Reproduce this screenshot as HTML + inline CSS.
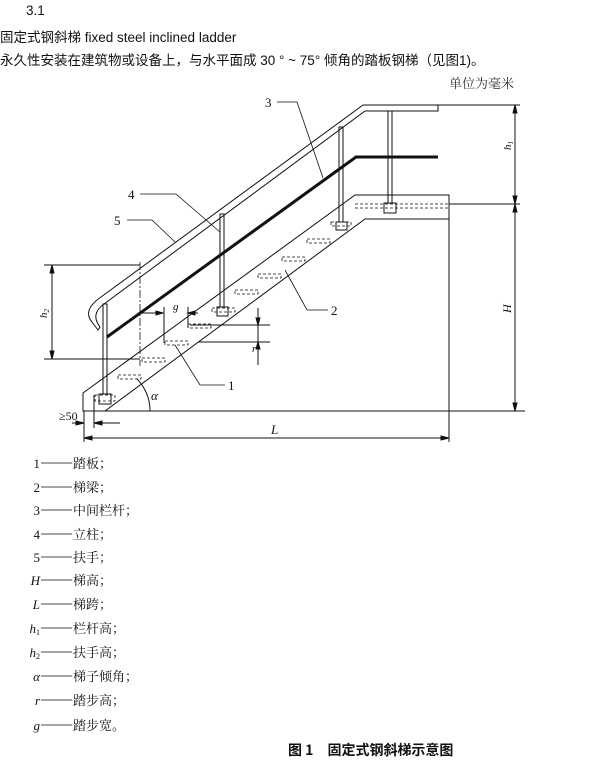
<!DOCTYPE html>
<html><head><meta charset="utf-8"><style>
body{margin:0;width:613px;height:765px;background:#fff;position:relative;overflow:hidden}
.t{position:absolute;font-family:"Liberation Sans","Noto Sans CJK SC",sans-serif;font-size:13.5px;color:#111;white-space:nowrap}
svg{position:absolute;left:0;top:0}
</style></head><body>
<div class="t" style="left:26px;top:3px">3.1</div>
<div class="t" style="left:0;top:26px">固定式钢斜梯 fixed steel inclined ladder</div>
<div class="t" style="left:0;top:49px">永久性安装在建筑物或设备上，与水平面成 30 ° ~ 75° 倾角的踏板钢梯（见图1)。</div>
<div class="t" style="left:449px;top:73px;font-family:'Noto Serif CJK SC',serif;font-size:13px;color:#333">单位为毫米</div>
<svg width="613" height="765" viewBox="0 0 613 765" font-family="Liberation Serif,Noto Serif CJK SC,serif" font-size="13" fill="none" stroke="#111" stroke-width="1">
<!-- handrail -->
<path d="M438,105 L363,105 L101,297 Q82,310 92,322 L98,330 L100,327 Q90,314 104,304 L365,111 L438,111 Z"/>
<!-- middle rail -->
<path d="M107,337 L356,157 L438,157" stroke-width="3"/>
<!-- stringer -->
<path d="M83,393 L355,195 L449,195 L449,219 L365,219 L105,411 L83,411 Z"/>
<!-- posts -->
<rect x="103" y="304" width="4" height="90"/><rect x="99" y="394" width="12" height="10"/>
<rect x="220" y="214" width="4" height="93"/><rect x="217" y="307" width="11" height="9"/>
<rect x="339" y="127" width="4" height="95"/><rect x="336" y="222" width="11" height="8"/>
<rect x="388" y="111" width="4" height="92"/><rect x="384" y="203" width="12" height="10"/>
<!-- treads -->
<g stroke-dasharray="3,2" stroke-width="0.8">
<rect x="79" y="409" width="0" height="0"/>
<rect x="118" y="375" width="23" height="4"/>
<rect x="142" y="358" width="23" height="4"/>
<rect x="165" y="341" width="23" height="4"/>
<rect x="188" y="324" width="23" height="4"/>
<rect x="212" y="308" width="23" height="4"/>
<rect x="235" y="290" width="23" height="4"/>
<rect x="258" y="274" width="23" height="4"/>
<rect x="282" y="257" width="23" height="4"/>
<rect x="307" y="239" width="23" height="4"/>
<rect x="331" y="222" width="20" height="4"/>
<rect x="95" y="395" width="20" height="6"/>
<path d="M355,204 L449,204 M355,208 L449,208"/>
</g>
<!-- ground and dims -->
<path d="M105,411 L525,411 M438,105 L520,105 M449,204 L520,204 M515,105 L515,411"/>
<path d="M515,105 l-2,8 h4 z M515,204 l-2,-8 h4 z M515,204 l-2,8 h4 z M515,411 l-2,-8 h4 z" fill="#111"/>
<path d="M44,265 L140,265 M44,359 L140,359 M52,265 L52,359"/>
<path d="M52,265 l-2,8 h4 z M52,359 l-2,-8 h4 z" fill="#111"/>
<path d="M140,262 L140,366" stroke-dasharray="8,2,2,2" stroke-width="0.8"/>
<path d="M84,411 L84,442 M449,219 L449,442 M84,438 L449,438"/>
<path d="M84,438 l8,-2 v4 z M449,438 l-8,-2 v4 z" fill="#111"/>
<path d="M94,395 L94,428 M72,423 L84,423 M94,423 L120,423"/>
<path d="M84,423 l-8,-2 v4 z M94,423 l8,-2 v4 z" fill="#111"/>
<path d="M150,411 A45,45 0 0 0 137,379"/>
<!-- g and r -->
<path d="M142,313 L163,313 M188,313 L198,313 M164,307 L164,343 M188,307 L188,328 M190,325 L270,325 M198,342 L270,342 M258,308 L258,365"/>
<path d="M163,313 l-7,-2 v4 z M188,313 l7,-2 v4 z M258,325 l-2,-7 h4 z M258,342 l-2,7 h4 z" fill="#111"/>
<!-- leaders -->
<path d="M277,102 L297,102 L323,178 M140,194 L176,194 L220,232 M127,220 L152,220 L175,242 M285,270 L307,310 L328,310 M175,345 L200,385 L225,385" stroke-width="0.8"/>
<g fill="#111" stroke="none">
<text x="265" y="107">3</text><text x="128" y="199">4</text><text x="114" y="225">5</text>
<text x="331" y="315">2</text><text x="228" y="390">1</text>
<text x="151" y="400" font-style="italic">α</text>
<text x="271" y="434" font-style="italic">L</text>
<text x="173" y="310" font-style="italic" font-size="11">g</text>
<text x="252" y="352" font-style="italic" font-size="11">r</text>
<text x="59" y="420" font-size="12">≥50</text>
<text transform="translate(511,150) rotate(-90)" font-style="italic" font-size="11">h<tspan font-size="7" dy="2">1</tspan></text>
<text transform="translate(511,313) rotate(-90)" font-style="italic" font-size="12">H</text>
<text transform="translate(47,318) rotate(-90)" font-style="italic" font-size="11">h<tspan font-size="7" dy="2">2</tspan></text>
</g>
<!-- legend -->
<g fill="#111" stroke="none" font-size="13">
<text x="40" y="468" text-anchor="end">1</text><text x="73" y="468">踏板；</text>
<text x="40" y="492" text-anchor="end">2</text><text x="73" y="492">梯梁；</text>
<text x="40" y="515" text-anchor="end">3</text><text x="73" y="515">中间栏杆；</text>
<text x="40" y="539" text-anchor="end">4</text><text x="73" y="539">立柱；</text>
<text x="40" y="562" text-anchor="end">5</text><text x="73" y="562">扶手；</text>
<text x="40" y="585" text-anchor="end" font-style="italic">H</text><text x="73" y="585">梯高；</text>
<text x="40" y="609" text-anchor="end" font-style="italic">L</text><text x="73" y="609">梯跨；</text>
<text x="40" y="633" text-anchor="end" font-style="italic">h<tspan font-size="8" dy="2" font-style="normal">1</tspan></text><text x="73" y="633">栏杆高；</text>
<text x="40" y="657" text-anchor="end" font-style="italic">h<tspan font-size="8" dy="2" font-style="normal">2</tspan></text><text x="73" y="657">扶手高；</text>
<text x="40" y="681" text-anchor="end" font-style="italic">α</text><text x="73" y="681">梯子倾角；</text>
<text x="40" y="705" text-anchor="end" font-style="italic">r</text><text x="73" y="705">踏步高；</text>
<text x="40" y="730" text-anchor="end" font-style="italic">g</text><text x="73" y="730">踏步宽。</text>
<text x="288" y="755" font-family="Noto Sans CJK SC,sans-serif" font-weight="bold" font-size="14">图 1　固定式钢斜梯示意图</text>
</g>
<path d="M41,463 H72 M41,487 H72 M41,510 H72 M41,534 H72 M41,557 H72 M41,580 H72 M41,604 H72 M41,628 H72 M41,652 H72 M41,676 H72 M41,700 H72 M41,725 H72" stroke-width="0.8"/>
</svg>
</body></html>
